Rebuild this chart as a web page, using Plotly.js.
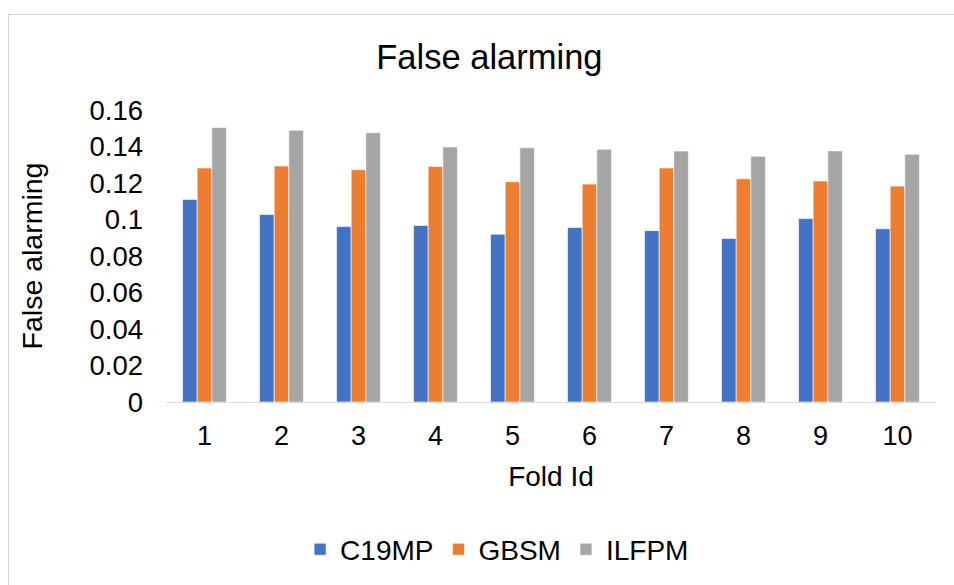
<!DOCTYPE html>
<html>
<head>
<meta charset="utf-8">
<script src="https://cdn.plot.ly/plotly-3.0.1.min.js"></script>
<style>
html,body{margin:0;padding:0;background:#fff;}
#chart{position:absolute;left:0;top:0;width:954px;height:585px;}
#frame{position:absolute;left:8px;top:14px;width:960px;height:600px;border-left:1px solid #d4d4d4;border-top:1px solid #d4d4d4;pointer-events:none;}
</style>
</head>
<body>
<div id="chart"></div>
<div id="frame"></div>
<script>
const folds = ["1","2","3","4","5","6","7","8","9","10"];
const c19mp = [0.111, 0.1027, 0.0961, 0.0967, 0.0919, 0.0956, 0.0939, 0.0896, 0.1005, 0.0949];
const gbsm  = [0.1282, 0.1293, 0.1273, 0.1291, 0.1207, 0.1194, 0.1282, 0.1223, 0.1211, 0.1183];
const ilfpm = [0.1504, 0.1489, 0.1475, 0.1397, 0.1393, 0.1385, 0.1375, 0.1347, 0.1376, 0.1357];
const yTicks = [0, 0.02, 0.04, 0.06, 0.08, 0.1, 0.12, 0.14, 0.16];

const mk = (name, y, color) => ({
  type: 'bar', name: name, x: folds, y: y,
  marker: {color: color, line: {color: 'rgba(255,255,255,0.6)', width: 1}},
  hoverinfo: 'x+y+name'
});

const data = [
  mk('C19MP', c19mp, '#4472C4'),
  mk('GBSM', gbsm, '#ED7D31'),
  mk('ILFPM', ilfpm, '#A5A5A5')
];

const font = {family: 'Liberation Sans, Arial, sans-serif', color: '#000'};
const f = s => Object.assign({size: s}, font);

const layout = {
  width: 954, height: 585,
  paper_bgcolor: 'rgba(0,0,0,0)', plot_bgcolor: 'rgba(0,0,0,0)',
  margin: {l: 166, r: 18, t: 110, b: 182},
  barmode: 'group', bargap: 0.43, bargroupgap: 0,
  font: f(27),
  title: {text: 'False alarming', font: f(34.5), x: 0.513, xanchor: 'center', y: 0.903, yanchor: 'middle'},
  xaxis: {
    type: 'category',
    title: {text: 'Fold Id', font: f(28), standoff: 15},
    tickfont: f(27), ticklabelstandoff: 10,
    showline: true, linecolor: '#d9d9d9', linewidth: 1,
    ticks: '', showgrid: false, zeroline: false,
    automargin: false
  },
  yaxis: {
    range: [0, 0.16], tickvals: yTicks, ticktext: yTicks.map(String),
    title: {text: 'False alarming', font: f(28.5), standoff: 38},
    tickfont: f(27.5), ticklabelstandoff: 22,
    showgrid: false, zeroline: false, showline: false, ticks: '',
    automargin: false
  },
  legend: {
    orientation: 'h', x: 0.43, xanchor: 'center', y: -0.5, yanchor: 'middle',
    font: f(28), traceorder: 'normal', itemwidth: 30
  },
  showlegend: true
};

Plotly.newPlot('chart', data, layout, {displayModeBar: false});
</script>
</body>
</html>
